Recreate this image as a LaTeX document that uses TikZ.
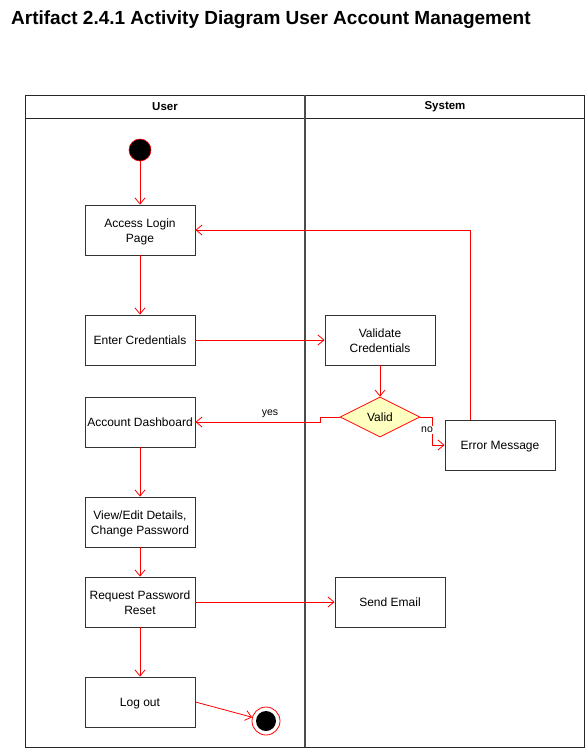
\documentclass[tikz,border=0pt]{standalone}
\usepackage{fontspec}
\setmainfont{Liberation Sans}
\usetikzlibrary{arrows.meta,shapes.geometric}
\definecolor{flow}{HTML}{FF0000}
\definecolor{decfill}{HTML}{FFFFC0}
\begin{document}
\begin{tikzpicture}[x=1pt,y=-1pt,
  every node/.style={font=\fontsize{12}{15}\selectfont, inner sep=0pt},
  act/.style={draw=black!80, line width=0.9pt, fill=white, minimum width=110pt, minimum height=50pt, align=center,
    execute at begin node={\rule{0pt}{12pt}}, execute at end node={\rule[-4pt]{0pt}{4pt}}},
  acttwo/.style={act, execute at begin node={\rule{0pt}{28pt}}},
  flowline/.style={draw=flow, line width=0.8pt, -{Straight Barb[length=6pt,width=10pt]}},
  lane/.style={draw=black!85, line width=0.9pt}]
\useasboundingbox (0,0) rectangle (585,748);

% title
\node[anchor=west, font=\bfseries\fontsize{19}{22}\selectfont] (title) at (11,19.5) {Artifact 2.4.1 Activity Diagram User Account Management};

% swimlanes
\draw[lane] (25,95) rectangle (584,747);
\draw[lane] (25,118) -- (584,118);
\draw[draw=black!70, line width=1.4pt] (305,95) -- (305,747);
\node[font=\bfseries\fontsize{11.5}{14}\selectfont] (userlane) at (165,107) {User};
\node[font=\bfseries\fontsize{11.5}{14}\selectfont] (syslane) at (445,107) {System};

% start / end
\node[circle, fill=black, draw=flow, line width=0.6pt, minimum size=22pt] (start) at (140,150) {};
\node[circle, draw=flow, line width=0.8pt, fill=white, minimum size=28pt] (end) at (266,721) {};
\node[circle, fill=black, minimum size=20pt] (endin) at (266,721) {};

% user activities
\node[acttwo] (login) at (140,230) {Access Login\\Page};
\node[act] (cred) at (140,340) {Enter Credentials};
\node[act] (dash) at (140,422) {Account Dashboard};
\node[acttwo] (view) at (140,522) {View/Edit Details,\\Change Password};
\node[acttwo] (reset) at (140,602) {Request Password\\Reset};
\node[act] (logout) at (140,702) {Log out};

% system activities
\node[acttwo] (validate) at (380,340) {Validate\\Credentials};
\node[diamond, draw=flow, line width=0.8pt, fill=decfill, minimum width=80pt, minimum height=40pt, aspect=2] (valid) at (380,417) {\raisebox{-1pt}{Valid}};
\node[act] (error) at (500,445) {Error Message};
\node[act] (email) at (390,602) {Send Email};

% control flow
\draw[flowline] (start) -- (login);
\draw[flowline] (login) -- (cred);
\draw[flowline] (cred) -- (validate);
\draw[flowline] (validate) -- (valid);
\draw[flowline] (valid.west) -- (320,417) -- (320,422) -- (dash.east);
\node[font=\fontsize{10.5}{12}\selectfont] (yes) at (270,413.5) {yes};
\draw[flowline] (valid.east) -- (432,417) -- (432,445) -- (error.west);
\node[font=\fontsize{10.5}{12}\selectfont, fill=white, inner sep=1pt] (no) at (427,430) {no};
\draw[flowline] (error.north -| 470,0) -- (470,230) -- (login.east);
\draw[flowline] (dash) -- (view);
\draw[flowline] (view) -- (reset);
\draw[flowline] (reset) -- (email);
\draw[flowline] (reset) -- (logout);
\draw[flowline] (logout.east) -- (end);
\end{tikzpicture}
\end{document}
